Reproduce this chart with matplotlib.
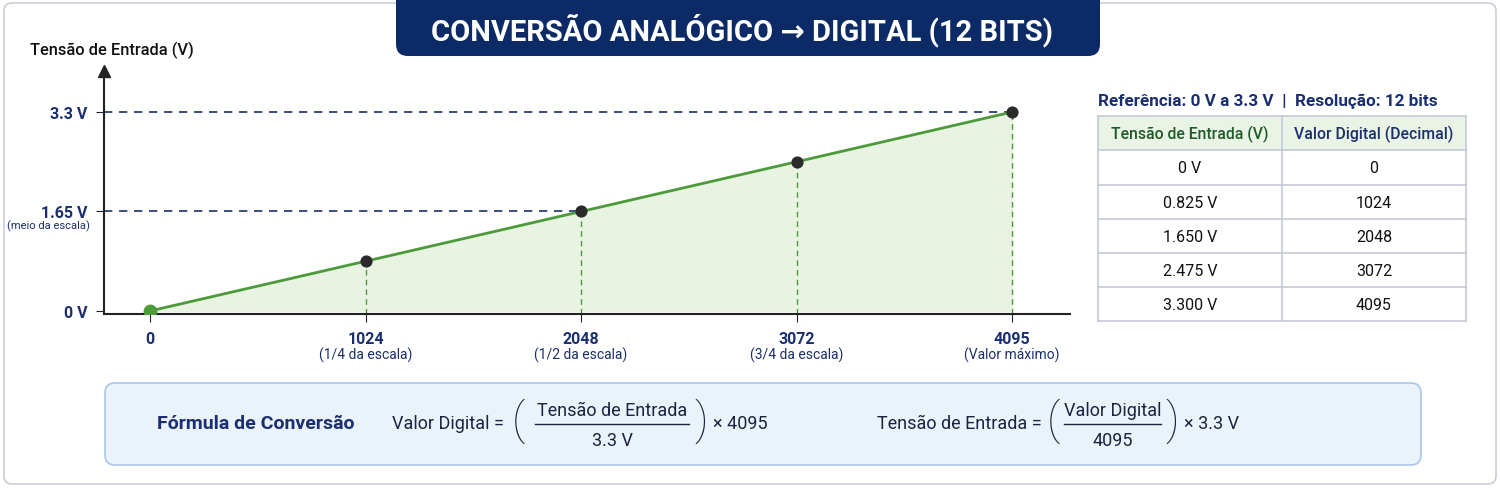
# ADC 12-bit conversion chart: voltage vs digital value, with table and formulas.

import matplotlib
matplotlib.use("Agg")
import matplotlib.pyplot as plt
from matplotlib.patches import FancyBboxPatch, Rectangle

plt.rcParams['font.family'] = ['Roboto', 'DejaVu Sans']

# data
digital_values = [0, 1024, 2048, 3072, 4095]
voltages = [0.0, 0.825, 1.65, 2.475, 3.3]
x_sub_labels = ['', '(1/4 da escala)', '(1/2 da escala)', '(3/4 da escala)', '(Valor máximo)']
y_ticks = [0.0, 1.65, 3.3]
y_tick_labels = ['0 V', '1.65 V', '3.3 V']
table_header = ['Tensão de Entrada (V)', 'Valor Digital (Decimal)']
table_voltages = ['0 V', '0.825 V', '1.650 V', '2.475 V', '3.300 V']
table_digital = ['0', '1024', '2048', '3072', '4095']

NAVY = '#1b2f6e'
GREEN = '#4c9a3a'
DARK_GREEN = '#1f5a27'
INK = '#1a2340'

fig = plt.figure(figsize=(15, 4.89), dpi=100)

# background layer in pixel coords
bg = fig.add_axes([0, 0, 1, 1])
bg.set_xlim(0, 1500)
bg.set_ylim(489, 0)
bg.axis('off')

# outer border
bg.add_patch(FancyBboxPatch((4, 4), 1492, 481, boxstyle='round,pad=0,rounding_size=8',
                            fc='white', ec='#c9ced8', lw=1.2))

# title banner
bg.add_patch(FancyBboxPatch((396, -30), 704, 87, boxstyle='round,pad=0,rounding_size=12',
                            fc='#0c2a66', ec='none'))
bg.text(742, 30, 'CONVERSÃO ANALÓGICO → DIGITAL (12 BITS)', color='white', fontsize=21,
        fontweight='bold', ha='center', va='center')

# y axis title
bg.text(30, 50, 'Tensão de Entrada (V)', color='#111111', fontsize=11.8, fontweight='medium',
        ha='left', va='center')

# main chart
ax = fig.add_axes([104 / 1500, (489 - 315) / 489, 966 / 1500, (315 - 72) / 489])
ax.patch.set_alpha(0)
ax.set_xlim(-218, 4370)
ax.set_ylim(-0.05, 3.98)
for s in ['top', 'right']:
    ax.spines[s].set_visible(False)
for s in ['left', 'bottom']:
    ax.spines[s].set_color('#222222')
    ax.spines[s].set_linewidth(1.5)
ax.plot(0, 1, marker='^', color='#222222', markersize=8, transform=ax.transAxes, clip_on=False)

ax.fill_between(digital_values, voltages, 0, color='#e8f3e2', zorder=1)
ax.plot(digital_values, voltages, color=GREEN, lw=2, zorder=3)
ax.scatter(digital_values[1:], voltages[1:], s=60, color='#2a2a2a', zorder=4)
ax.scatter(digital_values[:1], voltages[:1], s=80, color=GREEN, zorder=4)

# guide lines
for xv, yv in zip(digital_values[1:], voltages[1:]):
    ax.plot([xv, xv], [-0.05, yv], color=GREEN, ls=(0, (4, 3)), lw=1, zorder=2)
for yv in [1.65, 3.3]:
    xv = digital_values[voltages.index(yv)]
    ax.plot([-218, xv], [yv, yv], color=NAVY, ls=(0, (5, 4)), lw=1.2, zorder=2)

ax.set_xticks(digital_values)
ax.set_xticklabels([str(v) for v in digital_values], color=NAVY, fontsize=11.5, fontweight='bold')
ax.tick_params(axis='x', length=6, color='#222222', pad=6)
ax.set_yticks(y_ticks)
ax.set_yticklabels(y_tick_labels, color=NAVY, fontsize=11.5, fontweight='bold')
ax.tick_params(axis='y', length=6, color='#222222', pad=6)
for xv, lab in zip(digital_values, x_sub_labels):
    ax.annotate(lab, (xv, 0), xycoords=('data', 'axes fraction'), xytext=(0, -29),
                textcoords='offset points', ha='center', va='center', color=NAVY, fontsize=10)
ax.annotate('(meio da escala)', (0, 1.65), xycoords=('axes fraction', 'data'), xytext=(-40, -10),
            textcoords='offset points', ha='center', va='center', color=NAVY, fontsize=8)

# table
bg.text(1098, 101, 'Referência: 0 V a 3.3 V  |  Resolução: 12 bits', color=NAVY, fontsize=12.3,
        fontweight='bold', ha='left', va='center')
tx = [1098, 1282, 1466]
ty = [117, 151, 186, 220, 254, 288, 322]
bg.add_patch(Rectangle((tx[0], ty[0]), tx[2] - tx[0], ty[1] - ty[0], fc='#e9f4e6', ec='none'))
for y in ty:
    bg.plot([tx[0], tx[2]], [y, y], color='#c3cad6', lw=1.2)
for x in tx:
    bg.plot([x, x], [ty[0], ty[-1]], color='#c3cad6', lw=1.2)
bg.text((tx[0] + tx[1]) / 2, (ty[0] + ty[1]) / 2, table_header[0], color=DARK_GREEN,
        fontsize=11.3, fontweight='medium', ha='center', va='center')
bg.text((tx[1] + tx[2]) / 2, (ty[0] + ty[1]) / 2, table_header[1], color=NAVY,
        fontsize=11.3, fontweight='medium', ha='center', va='center')
for i, (v, d) in enumerate(zip(table_voltages, table_digital)):
    yc = (ty[i + 1] + ty[i + 2]) / 2
    bg.text((tx[0] + tx[1]) / 2, yc, v, color='#111111', fontsize=11.5, ha='center', va='center')
    bg.text((tx[1] + tx[2]) / 2, yc, d, color='#111111', fontsize=11.5, ha='center', va='center')

# formula box
bg.add_patch(FancyBboxPatch((105, 384), 1316, 82, boxstyle='round,pad=0,rounding_size=10',
                            fc='#eaf2fb', ec='#a9c5ea', lw=1.2))
bg.text(157, 424, 'Fórmula de Conversão', color=NAVY, fontsize=14, fontweight='bold',
        ha='left', va='center')


def fraction(x_left, lhs, num, den, rhs, x_paren1, x_paren2, line_x0, line_x1):
    bg.text(x_left, 424, lhs, color=INK, fontsize=13, ha='left', va='center')
    bg.text(x_paren1, 421, '(', color=INK, fontsize=32, fontweight='light', ha='center', va='center')
    bg.text(x_paren2, 421, ')', color=INK, fontsize=32, fontweight='light', ha='center', va='center')
    xc = (line_x0 + line_x1) / 2
    bg.text(xc, 411, num, color=INK, fontsize=13, ha='center', va='center')
    bg.plot([line_x0, line_x1], [425, 425], color=INK, lw=1)
    bg.text(xc, 441, den, color=INK, fontsize=13, ha='center', va='center')
    bg.text(x_paren2 + 12, 424, rhs, color=INK, fontsize=13, ha='left', va='center')


fraction(392, 'Valor Digital =', 'Tensão de Entrada', '3.3 V', '× 4095', 518, 701, 535, 689)
fraction(877, 'Tensão de Entrada =', 'Valor Digital', '4095', '× 3.3 V', 1053, 1172, 1064, 1161)

fig.savefig('out.png', dpi=100)
